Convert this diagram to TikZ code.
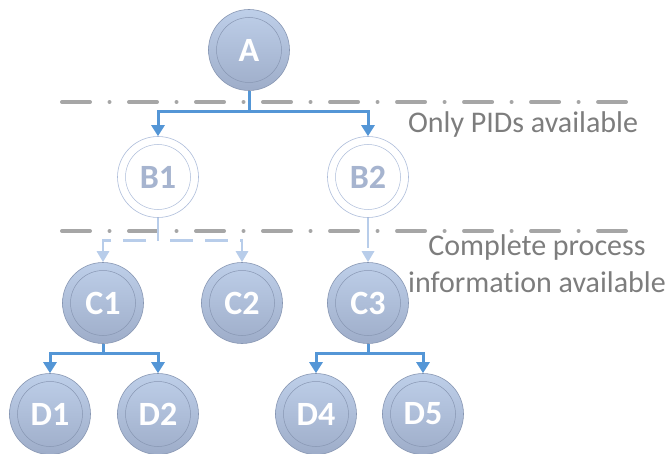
\documentclass[tikz,border=0pt]{standalone}
\usepackage{fontspec}
\setmainfont[RawFeature={-liga}]{Carlito}
\usetikzlibrary{arrows.meta,positioning,calc}
\definecolor{nodetop}{RGB}{190,207,233}
\definecolor{nodebot}{RGB}{158,173,201}
\definecolor{nodeline}{RGB}{135,150,178}
\definecolor{pidline}{RGB}{172,188,218}
\definecolor{pidtext}{RGB}{166,180,207}
\definecolor{flowblue}{RGB}{84,150,214}
\definecolor{flowlight}{RGB}{184,205,234}
\definecolor{sepgray}{RGB}{166,166,166}
\definecolor{labelgray}{RGB}{125,125,125}

\begin{document}
\begin{tikzpicture}[x=1pt, y=1pt,
    proc/.style={circle, draw=nodeline, line width=0.6pt, inner sep=0pt, minimum size=81pt,
        top color=nodetop, bottom color=nodebot, text=white, font=\fontsize{34}{34}\selectfont\bfseries,
        path picture={\draw[nodeline, line width=0.5pt] (path picture bounding box.center) circle (32.5pt);}},
    pidonly/.style={circle, draw=pidline, line width=0.6pt, inner sep=0pt, minimum size=81pt,
        fill=white, text=pidtext, font=\fontsize{34}{34}\selectfont\bfseries,
        path picture={\draw[pidline, line width=0.5pt] (path picture bounding box.center) circle (32.5pt);}},
    flow/.style={-{Triangle[length=11pt,width=13pt]}, draw=flowblue, line width=3pt},
    weakflow/.style={-{Triangle[length=11pt,width=12pt]}, draw=flowlight, line width=2.8pt,
        dash pattern=on 23pt off 12pt},
    sep/.style={draw=sepgray, line width=4pt, line cap=round,
        dash pattern=on 28pt off 19.5pt on 0.01pt off 19.5pt},
    note/.style={text=labelgray, font=\fontsize{30}{37}\selectfont, align=center}
]
    \useasboundingbox (0,0) rectangle (666,453);

    % separators
    \coordinate (s1l) at (62,351);
    \coordinate (s1r) at (626,351);
    \coordinate (s2l) at (62,222);
    \coordinate (s2r) at (626,222);
    \draw[sep] (s1l) -- (s1r);
    \draw[sep] (s2l) -- (s2r);

    % process tree
    \node[proc] (A) at (249,403) {A};
    \node[pidonly] (B1) at (158,276) {B1};
    \node[pidonly] (B2) at (368,276) {B2};
    \node[proc] (C1) at (103,150) {C1};
    \node[proc] (C2) at (242,150) {C2};
    \node[proc] (C3) at (368,150) {C3};
    \node[proc] (D1) at (50,39) {D1};
    \node[proc] (D2) at (158,39) {D2};
    \node[proc] (D4) at (316,39) {D4};
    \node[proc] (D5) at (423,39) {D5};

    \draw[flow] (A.south) -- ++(0,-21) -| (B1.north);
    \draw[flow] (A.south) -- ++(0,-21) -| (B2.north);
    \draw[weakflow] (B1.south) -- ++(0,-23) -| (C1.north);
    \draw[weakflow] (B1.south) -- ++(0,-23) -| (C2.north);
    \draw[weakflow, dash pattern=on 30pt off 4pt] (B2.south) -- (C3.north);
    \draw[flow] (C1.south) -- ++(0,-10) -| (D1.north);
    \draw[flow] (C1.south) -- ++(0,-10) -| (D2.north);
    \draw[flow] (C3.south) -- ++(0,-10) -| (D4.north);
    \draw[flow] (C3.south) -- ++(0,-10) -| (D5.north);

    % labels
    \node[note, anchor=base] (pids) at (523,320) {Only PIDs available};
    \node[note] (full) at (537,189) {Complete process\\information available};
\end{tikzpicture}
\end{document}
